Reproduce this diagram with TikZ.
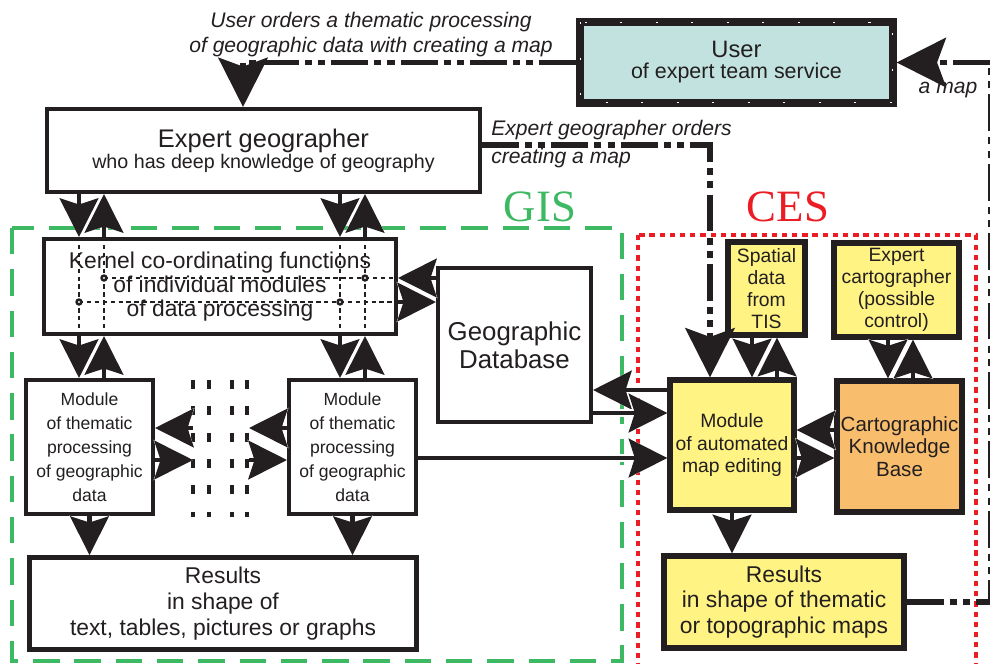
\documentclass[tikz,border=0pt]{standalone}
\usepackage{fontspec}
\setmainfont{Liberation Sans}
\newfontfamily\timesfont{Liberation Serif}
\usetikzlibrary{arrows.meta, positioning, calc}
\definecolor{ink}{HTML}{231F20}
\definecolor{gisgreen}{HTML}{3DB863}
\definecolor{cesred}{HTML}{EC1C24}
\definecolor{mapyellow}{HTML}{FFF384}
\definecolor{kborange}{HTML}{F8BE6E}
\definecolor{userteal}{HTML}{C1E2DE}

\tikzset{
  box/.style={draw=ink, line width=2.3pt, fill=white, align=center, text=ink, inner sep=0pt},
  ybox/.style={box, line width=3pt, fill=mapyellow},
  conn/.style={draw=ink, line width=2.3pt, -{Stealth[length=22pt, width=22pt, inset=3.5pt]},
    preaction={draw=white, line width=5pt, shorten <=3pt, -{Stealth[length=22pt, width=22pt, inset=3.5pt]}}},
  order/.style={draw=ink, line width=3.4pt, dash pattern=on 21pt off 3.5pt on 4pt off 3.5pt on 4pt off 3.5pt,
    -{Stealth[length=28pt, width=28pt, inset=5pt]}},
  kdash/.style={draw=ink, line width=0.8pt, dash pattern=on 2.5pt off 2pt},
  dotcol/.style={draw=ink, line width=2.8pt, dash pattern=on 5pt off 10pt},
  note/.style={font=\itshape\fontsize{12}{14}\selectfont, text=ink, inner sep=0pt},
}

\begin{document}
\begin{tikzpicture}[x=0.02cm, y=-0.02cm]
\useasboundingbox (0,0) rectangle (990,663);

% system frames
\draw[gisgreen, line width=2.4pt, dash pattern=on 15pt off 8.5pt] (12,228) rectangle (622,661);
\draw[cesred, line width=2.4pt, dash pattern=on 3pt off 2.8pt] (638,235) rectangle (976,690);
\node[text=gisgreen, font=\timesfont\fontsize{25.5}{26}\selectfont, inner sep=0pt] (gis) at (540,207) {GIS};
\node[text=cesred, font=\timesfont\fontsize{25.5}{26}\selectfont, inner sep=0pt] (ces) at (788,207) {CES};

% boxes
\node[box, fill=userteal, line width=4.2pt, minimum width=6.26cm, minimum height=1.62cm] (user) at (736.5,62.5)
  {\fontsize{13.5}{15}\selectfont User\\\fontsize{12.2}{15}\selectfont of expert team service};
\draw[white, line width=0.6pt, dash pattern=on 1.2pt off 19pt]
  ([shift={(0.075cm,-0.075cm)}]user.north west) rectangle ([shift={(-0.075cm,0.075cm)}]user.south east);
\node[box, minimum width=8.66cm, minimum height=1.66cm] (geo) at (263.5,150.5)
  {\fontsize{14.5}{15}\selectfont Expert geographer\\\fontsize{11.2}{14.7}\selectfont who has deep knowledge of geography};
\node[box, minimum width=7.04cm, minimum height=1.9cm, font=\fontsize{13}{13.6}\selectfont] (kernel) at (220,286.5)
  {Kernel co-ordinating functions\\of individual modules\\of data processing};
\node[box, minimum width=2.54cm, minimum height=2.68cm, font=\fontsize{10}{13.6}\selectfont] (modA) at (89.5,447)
  {Module\\of thematic\\processing\\of geographic\\data};
\node[box, minimum width=2.54cm, minimum height=2.68cm, font=\fontsize{10}{13.6}\selectfont] (modB) at (352.5,447)
  {Module\\of thematic\\processing\\of geographic\\data};
\node[box, minimum width=3.06cm, minimum height=3.08cm, font=\fontsize{14.7}{16}\selectfont] (db) at (514.5,345)
  {Geographic\\Database};
\node[box, line width=2.8pt, minimum width=7.74cm, minimum height=1.84cm, font=\fontsize{13}{14.7}\selectfont] (resG) at (223,603.5)
  {Results\\in shape of\\text, tables, pictures or graphs};
\node[ybox, minimum width=2.48cm, minimum height=2.6cm, font=\fontsize{11}{12.6}\selectfont] (edit) at (732,445)
  {Module\\of automated\\map editing};
\node[ybox, minimum width=1.54cm, minimum height=1.86cm, font=\fontsize{11}{12.4}\selectfont] (tis) at (766.5,288.5)
  {Spatial\\data\\from\\TIS};
\node[ybox, minimum width=2.5cm, minimum height=1.88cm, font=\fontsize{11}{12.4}\selectfont] (cart) at (896.5,290)
  {Expert\\cartographer\\(possible\\control)};
\node[ybox, fill=kborange, minimum width=2.5cm, minimum height=2.62cm, font=\fontsize{11.7}{12.9}\selectfont] (ckb) at (899.5,446.5)
  {Cartographic\\Knowledge\\Base};
\node[ybox, minimum width=4.8cm, minimum height=1.84cm, font=\fontsize{13}{14.7}\selectfont] (resC) at (784,602)
  {Results\\in shape of thematic\\or topographic maps};

% labels
\node[note, align=center] (ordlbl) at (371,34.5) {User orders a thematic processing\\of geographic data with creating a map};
\node[note, anchor=west] (geolbl1) at (491,130) {Expert geographer orders};
\node[note, anchor=west] (geolbl2) at (491,158) {creating a map};
\node[note] (maplbl) at (948,90) {a map};

% fixed x and y positions
\coordinate (gx1) at (79,0);
\coordinate (gx2) at (104,0);
\coordinate (gx3) at (340,0);
\coordinate (gx4) at (365,0);
\coordinate (ky1) at (0,278);
\coordinate (ky2) at (0,302);
\coordinate (ey1) at (0,390);
\coordinate (ey2) at (0,413);
\coordinate (ey3) at (0,458);
\coordinate (ey4) at (0,430);
\coordinate (tx1) at (752,0);
\coordinate (tx2) at (777,0);
\coordinate (cx1) at (888,0);
\coordinate (cx2) at (913,0);
\coordinate (pl1) at (193,428);
\coordinate (pl2) at (193,460);
\coordinate (pr1) at (249,428);
\coordinate (pr2) at (249,460);
\coordinate (turn) at (991,62.5);

% kernel inner links
\draw[kdash] (kernel.north -| gx1) -- (kernel.south -| gx1);
\draw[kdash] (kernel.north -| gx2) -- (kernel.south -| gx2);
\draw[kdash] (kernel.north -| gx3) -- (kernel.south -| gx3);
\draw[kdash] (kernel.north -| gx4) -- (kernel.south -| gx4);
\draw[kdash] (gx2 |- ky1) -- (kernel.east |- ky1);
\draw[kdash] (gx1 |- ky2) -- (kernel.east |- ky2);
\fill[ink] (gx2 |- ky1) circle (0.075cm) (gx4 |- ky1) circle (0.075cm)
  (gx1 |- ky2) circle (0.075cm) (gx3 |- ky2) circle (0.075cm);
\fill[white] (gx2 |- ky1) circle (0.022cm) (gx4 |- ky1) circle (0.022cm)
  (gx1 |- ky2) circle (0.022cm) (gx3 |- ky2) circle (0.022cm);

% further modules
\draw[dotcol] (193,380) -- (193,517);
\draw[dotcol] (209,380) -- (209,517);
\draw[dotcol] (232,380) -- (232,517);
\draw[dotcol] (247,380) -- (247,517);

% orders
\draw[order] (user.west) -| ([xshift=-0.41cm]geo.north);
\draw[order] ([yshift=0.11cm]geo.east) -| ([xshift=-0.44cm]edit.north);
\draw[order] (resC.east) -| (turn) -- (user.east);

% data flow
\draw[conn] (geo.south -| gx1) -- (kernel.north -| gx1);
\draw[conn] (kernel.north -| gx2) -- (geo.south -| gx2);
\draw[conn] (geo.south -| gx3) -- (kernel.north -| gx3);
\draw[conn] (kernel.north -| gx4) -- (geo.south -| gx4);
\draw[conn] (kernel.south -| gx1) -- (modA.north -| gx1);
\draw[conn] (modA.north -| gx2) -- (kernel.south -| gx2);
\draw[conn] (kernel.south -| gx3) -- (modB.north -| gx3);
\draw[conn] (modB.north -| gx4) -- (kernel.south -| gx4);
\draw[conn] (db.west |- ky1) -- (kernel.east |- ky1);
\draw[conn] (kernel.east |- ky2) -- (db.west |- ky2);
\draw[conn] (pl1) -- (modA.east |- pl1);
\draw[conn] (modA.east |- pl2) -- (pl2);
\draw[conn] (modB.west |- pr1) -- (pr1);
\draw[conn] (pr2) -- (modB.west |- pr2);
\draw[conn] (edit.west |- ey1) -- (db.east |- ey1);
\draw[conn] (db.east |- ey2) -- (edit.west |- ey2);
\draw[conn] (modB.east |- ey3) -- (edit.west |- ey3);
\draw[conn] (ckb.west |- ey4) -- (edit.east |- ey4);
\draw[conn] (edit.east |- ey3) -- (ckb.west |- ey3);
\draw[conn] (tis.south -| tx1) -- (edit.north -| tx1);
\draw[conn] (edit.north -| tx2) -- (tis.south -| tx2);
\draw[conn] (cart.south -| cx1) -- (ckb.north -| cx1);
\draw[conn] (ckb.north -| cx2) -- (cart.south -| cx2);
\draw[conn] (modA.south) -- (resG.north -| modA.south);
\draw[conn] (modB.south) -- (resG.north -| modB.south);
\draw[conn] (edit.south) -- (resC.north -| edit.south);
\end{tikzpicture}
\end{document}
